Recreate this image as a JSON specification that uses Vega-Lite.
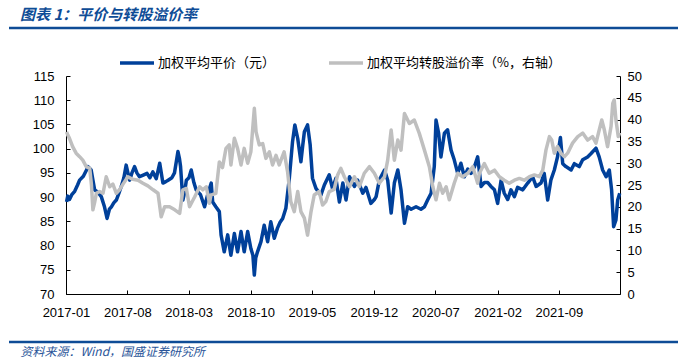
{
  "$schema": "https://vega.github.io/schema/vega-lite/v6.json",
  "width": 554,
  "height": 218,
  "autosize": "none",
  "padding": {"left": 66, "top": 76, "right": 66, "bottom": 69},
  "background": "white",
  "config": {"view": {"stroke": null}, "font": "Noto Sans CJK SC"},
  "title": {
    "text": "图表 1：平价与转股溢价率",
    "anchor": "start",
    "frame": "group",
    "dx": -46,
    "offset": 4,
    "fontSize": 15,
    "fontWeight": "bold",
    "fontStyle": "italic",
    "color": "#0E4C96",
    "font": "Noto Sans CJK SC"
  },
  "datasets": {
    "parity": [
      {"date": "2017-01-03", "value": 89.0}, {"date": "2017-01-07", "value": 90.2}, {"date": "2017-01-13", "value": 89.5},
      {"date": "2017-01-21", "value": 90.5}, {"date": "2017-01-31", "value": 91.2}, {"date": "2017-02-10", "value": 92.5},
      {"date": "2017-02-17", "value": 93.5}, {"date": "2017-03-02", "value": 94.3}, {"date": "2017-03-12", "value": 95.5},
      {"date": "2017-03-18", "value": 96.3}, {"date": "2017-03-29", "value": 95.6}, {"date": "2017-04-04", "value": 93.5},
      {"date": "2017-04-10", "value": 91.5}, {"date": "2017-04-21", "value": 91.0}, {"date": "2017-05-03", "value": 90.1},
      {"date": "2017-05-14", "value": 88.0}, {"date": "2017-05-23", "value": 85.6}, {"date": "2017-05-31", "value": 87.5},
      {"date": "2017-06-07", "value": 88.0}, {"date": "2017-06-15", "value": 88.8}, {"date": "2017-06-24", "value": 89.4},
      {"date": "2017-07-03", "value": 90.8}, {"date": "2017-07-11", "value": 92.2}, {"date": "2017-07-20", "value": 94.0},
      {"date": "2017-07-28", "value": 96.6}, {"date": "2017-08-03", "value": 95.0}, {"date": "2017-08-09", "value": 93.5},
      {"date": "2017-08-17", "value": 95.0}, {"date": "2017-08-26", "value": 96.3}, {"date": "2017-09-03", "value": 95.0},
      {"date": "2017-09-12", "value": 94.2}, {"date": "2017-09-23", "value": 94.5}, {"date": "2017-10-08", "value": 94.9},
      {"date": "2017-10-18", "value": 94.0}, {"date": "2017-10-28", "value": 95.2}, {"date": "2017-11-09", "value": 93.8},
      {"date": "2017-11-21", "value": 97.0}, {"date": "2017-12-02", "value": 92.9}, {"date": "2017-12-12", "value": 93.2},
      {"date": "2017-12-20", "value": 93.5}, {"date": "2018-01-02", "value": 94.0}, {"date": "2018-01-11", "value": 95.0},
      {"date": "2018-01-23", "value": 99.4}, {"date": "2018-01-28", "value": 98.0}, {"date": "2018-02-01", "value": 96.3},
      {"date": "2018-02-09", "value": 89.4}, {"date": "2018-02-15", "value": 91.0}, {"date": "2018-02-21", "value": 93.5},
      {"date": "2018-03-02", "value": 94.0}, {"date": "2018-03-10", "value": 95.6}, {"date": "2018-03-19", "value": 93.0},
      {"date": "2018-03-27", "value": 91.5}, {"date": "2018-04-11", "value": 90.5}, {"date": "2018-04-25", "value": 88.0},
      {"date": "2018-05-07", "value": 90.8}, {"date": "2018-05-18", "value": 92.9}, {"date": "2018-05-23", "value": 89.0},
      {"date": "2018-06-03", "value": 88.0}, {"date": "2018-06-15", "value": 87.0}, {"date": "2018-06-21", "value": 82.2},
      {"date": "2018-07-02", "value": 78.7}, {"date": "2018-07-14", "value": 82.2}, {"date": "2018-07-25", "value": 78.0},
      {"date": "2018-08-06", "value": 82.5}, {"date": "2018-08-17", "value": 78.7}, {"date": "2018-08-29", "value": 82.9},
      {"date": "2018-09-09", "value": 78.7}, {"date": "2018-09-21", "value": 82.9}, {"date": "2018-10-02", "value": 79.4},
      {"date": "2018-10-09", "value": 78.0}, {"date": "2018-10-14", "value": 73.9}, {"date": "2018-10-19", "value": 77.5},
      {"date": "2018-10-25", "value": 78.7}, {"date": "2018-11-06", "value": 80.8}, {"date": "2018-11-17", "value": 84.2},
      {"date": "2018-11-29", "value": 80.8}, {"date": "2018-12-10", "value": 84.9}, {"date": "2018-12-22", "value": 81.5},
      {"date": "2019-01-02", "value": 83.6}, {"date": "2019-01-11", "value": 84.8}, {"date": "2019-01-20", "value": 85.6},
      {"date": "2019-01-31", "value": 87.7}, {"date": "2019-02-12", "value": 93.9}, {"date": "2019-02-23", "value": 101.4},
      {"date": "2019-03-03", "value": 104.9}, {"date": "2019-03-13", "value": 102.1}, {"date": "2019-03-24", "value": 97.3},
      {"date": "2019-03-30", "value": 100.5}, {"date": "2019-04-05", "value": 103.5}, {"date": "2019-04-16", "value": 104.9},
      {"date": "2019-04-25", "value": 100.8}, {"date": "2019-05-03", "value": 93.9}, {"date": "2019-05-15", "value": 91.8},
      {"date": "2019-06-01", "value": 90.4}, {"date": "2019-06-13", "value": 92.5}, {"date": "2019-06-30", "value": 94.6},
      {"date": "2019-07-11", "value": 91.8}, {"date": "2019-07-23", "value": 93.9}, {"date": "2019-08-04", "value": 89.0},
      {"date": "2019-08-16", "value": 92.9}, {"date": "2019-08-27", "value": 89.4}, {"date": "2019-09-08", "value": 94.2},
      {"date": "2019-09-25", "value": 92.2}, {"date": "2019-10-06", "value": 93.5}, {"date": "2019-10-24", "value": 90.8},
      {"date": "2019-11-04", "value": 92.0}, {"date": "2019-11-21", "value": 88.7}, {"date": "2019-12-03", "value": 89.5},
      {"date": "2019-12-09", "value": 90.1}, {"date": "2019-12-20", "value": 93.5}, {"date": "2020-01-07", "value": 95.6},
      {"date": "2020-01-18", "value": 93.5}, {"date": "2020-01-30", "value": 86.7}, {"date": "2020-02-10", "value": 92.9},
      {"date": "2020-02-22", "value": 95.6}, {"date": "2020-03-04", "value": 91.5}, {"date": "2020-03-16", "value": 84.6},
      {"date": "2020-03-27", "value": 88.0}, {"date": "2020-04-08", "value": 87.5}, {"date": "2020-04-25", "value": 88.0},
      {"date": "2020-05-12", "value": 87.5}, {"date": "2020-05-24", "value": 88.0}, {"date": "2020-06-04", "value": 89.4},
      {"date": "2020-06-16", "value": 90.8}, {"date": "2020-06-27", "value": 96.3}, {"date": "2020-07-03", "value": 105.9},
      {"date": "2020-07-12", "value": 103.2}, {"date": "2020-07-20", "value": 98.3}, {"date": "2020-08-01", "value": 103.2},
      {"date": "2020-08-12", "value": 103.9}, {"date": "2020-08-24", "value": 99.7}, {"date": "2020-09-04", "value": 97.7},
      {"date": "2020-09-16", "value": 94.9}, {"date": "2020-09-27", "value": 97.0}, {"date": "2020-10-09", "value": 94.2},
      {"date": "2020-10-21", "value": 95.8}, {"date": "2020-11-01", "value": 94.9}, {"date": "2020-11-13", "value": 96.3},
      {"date": "2020-11-24", "value": 98.3}, {"date": "2020-12-06", "value": 92.2}, {"date": "2020-12-17", "value": 93.0},
      {"date": "2020-12-29", "value": 93.0}, {"date": "2021-01-09", "value": 92.2}, {"date": "2021-01-21", "value": 91.5},
      {"date": "2021-02-01", "value": 88.7}, {"date": "2021-02-13", "value": 93.5}, {"date": "2021-02-24", "value": 90.8},
      {"date": "2021-03-08", "value": 89.5}, {"date": "2021-03-19", "value": 91.5}, {"date": "2021-03-31", "value": 90.1},
      {"date": "2021-04-11", "value": 92.0}, {"date": "2021-04-29", "value": 91.5}, {"date": "2021-05-16", "value": 92.9},
      {"date": "2021-06-02", "value": 94.2}, {"date": "2021-06-14", "value": 92.2}, {"date": "2021-07-01", "value": 92.9},
      {"date": "2021-07-12", "value": 94.9}, {"date": "2021-07-24", "value": 89.4}, {"date": "2021-08-04", "value": 93.5},
      {"date": "2021-08-16", "value": 95.6}, {"date": "2021-08-27", "value": 98.3}, {"date": "2021-09-06", "value": 102.3},
      {"date": "2021-09-14", "value": 96.9}, {"date": "2021-09-25", "value": 96.3}, {"date": "2021-10-13", "value": 95.6},
      {"date": "2021-10-24", "value": 96.9}, {"date": "2021-11-10", "value": 96.3}, {"date": "2021-11-22", "value": 97.7},
      {"date": "2021-12-09", "value": 98.3}, {"date": "2021-12-21", "value": 99.0}, {"date": "2022-01-07", "value": 100.1},
      {"date": "2022-01-18", "value": 98.3}, {"date": "2022-01-30", "value": 95.6}, {"date": "2022-02-11", "value": 94.2},
      {"date": "2022-02-22", "value": 95.6}, {"date": "2022-03-02", "value": 91.5}, {"date": "2022-03-09", "value": 83.9},
      {"date": "2022-03-17", "value": 85.3}, {"date": "2022-03-23", "value": 89.4}, {"date": "2022-03-30", "value": 90.8}
    ],
    "premium": [
      {"date": "2017-01-03", "value": 37.2}, {"date": "2017-01-07", "value": 36.5}, {"date": "2017-01-13", "value": 35.7},
      {"date": "2017-01-24", "value": 33.8}, {"date": "2017-02-05", "value": 32.3}, {"date": "2017-02-17", "value": 31.5},
      {"date": "2017-02-28", "value": 30.7}, {"date": "2017-03-12", "value": 29.2}, {"date": "2017-03-24", "value": 28.8},
      {"date": "2017-03-30", "value": 25.0}, {"date": "2017-04-04", "value": 19.3}, {"date": "2017-04-10", "value": 21.0},
      {"date": "2017-04-16", "value": 23.1}, {"date": "2017-04-27", "value": 23.5}, {"date": "2017-05-09", "value": 23.1},
      {"date": "2017-05-20", "value": 26.9}, {"date": "2017-06-01", "value": 24.6}, {"date": "2017-06-12", "value": 25.2},
      {"date": "2017-06-24", "value": 23.1}, {"date": "2017-07-05", "value": 23.9}, {"date": "2017-07-17", "value": 25.2},
      {"date": "2017-08-03", "value": 26.9}, {"date": "2017-08-20", "value": 26.3}, {"date": "2017-09-07", "value": 26.1},
      {"date": "2017-09-24", "value": 25.4}, {"date": "2017-10-11", "value": 24.8}, {"date": "2017-10-29", "value": 23.9},
      {"date": "2017-11-15", "value": 23.1}, {"date": "2017-11-26", "value": 17.7}, {"date": "2017-12-08", "value": 20.0},
      {"date": "2017-12-25", "value": 20.0}, {"date": "2018-01-12", "value": 19.3}, {"date": "2018-01-29", "value": 18.5},
      {"date": "2018-02-09", "value": 23.9}, {"date": "2018-02-21", "value": 24.2}, {"date": "2018-03-04", "value": 20.0},
      {"date": "2018-03-22", "value": 22.3}, {"date": "2018-04-08", "value": 24.6}, {"date": "2018-04-19", "value": 23.9},
      {"date": "2018-05-01", "value": 24.6}, {"date": "2018-05-12", "value": 20.8}, {"date": "2018-05-17", "value": 22.7},
      {"date": "2018-06-03", "value": 23.1}, {"date": "2018-06-15", "value": 30.3}, {"date": "2018-06-26", "value": 29.0},
      {"date": "2018-07-08", "value": 33.4}, {"date": "2018-07-19", "value": 34.2}, {"date": "2018-07-25", "value": 29.6},
      {"date": "2018-08-06", "value": 35.7}, {"date": "2018-08-17", "value": 33.4}, {"date": "2018-08-29", "value": 29.6},
      {"date": "2018-09-09", "value": 33.4}, {"date": "2018-09-21", "value": 30.0}, {"date": "2018-10-02", "value": 32.6},
      {"date": "2018-10-14", "value": 42.6}, {"date": "2018-10-20", "value": 37.2}, {"date": "2018-10-31", "value": 34.2},
      {"date": "2018-11-12", "value": 34.5}, {"date": "2018-11-23", "value": 31.1}, {"date": "2018-12-05", "value": 32.6},
      {"date": "2018-12-16", "value": 29.6}, {"date": "2018-12-28", "value": 31.8}, {"date": "2019-01-08", "value": 29.6},
      {"date": "2019-01-25", "value": 32.6}, {"date": "2019-02-06", "value": 28.0}, {"date": "2019-02-17", "value": 21.2},
      {"date": "2019-03-01", "value": 18.9}, {"date": "2019-03-13", "value": 23.5}, {"date": "2019-03-24", "value": 18.9},
      {"date": "2019-04-05", "value": 17.4}, {"date": "2019-04-16", "value": 13.5}, {"date": "2019-04-28", "value": 18.9},
      {"date": "2019-05-09", "value": 22.7}, {"date": "2019-05-26", "value": 23.5}, {"date": "2019-06-07", "value": 20.4},
      {"date": "2019-06-18", "value": 21.2}, {"date": "2019-06-30", "value": 23.5}, {"date": "2019-07-17", "value": 24.0},
      {"date": "2019-07-29", "value": 27.3}, {"date": "2019-08-09", "value": 28.8}, {"date": "2019-08-21", "value": 26.9},
      {"date": "2019-09-08", "value": 24.6}, {"date": "2019-09-25", "value": 26.9}, {"date": "2019-10-12", "value": 24.6},
      {"date": "2019-10-29", "value": 27.7}, {"date": "2019-11-16", "value": 29.2}, {"date": "2019-12-03", "value": 27.7},
      {"date": "2019-12-20", "value": 25.4}, {"date": "2020-01-07", "value": 26.9}, {"date": "2020-01-18", "value": 30.7},
      {"date": "2020-01-30", "value": 37.6}, {"date": "2020-02-10", "value": 30.7}, {"date": "2020-02-22", "value": 35.3},
      {"date": "2020-03-04", "value": 33.0}, {"date": "2020-03-16", "value": 41.4}, {"date": "2020-04-02", "value": 39.1},
      {"date": "2020-04-19", "value": 39.9}, {"date": "2020-05-06", "value": 36.9}, {"date": "2020-05-24", "value": 33.0},
      {"date": "2020-06-10", "value": 29.2}, {"date": "2020-06-22", "value": 24.6}, {"date": "2020-07-03", "value": 21.6},
      {"date": "2020-07-15", "value": 25.4}, {"date": "2020-07-26", "value": 23.1}, {"date": "2020-08-07", "value": 24.6},
      {"date": "2020-08-18", "value": 21.6}, {"date": "2020-09-04", "value": 25.4}, {"date": "2020-09-16", "value": 27.7},
      {"date": "2020-10-03", "value": 26.9}, {"date": "2020-10-21", "value": 27.7}, {"date": "2020-11-07", "value": 29.2},
      {"date": "2020-11-24", "value": 25.4}, {"date": "2020-11-30", "value": 27.7}, {"date": "2020-12-17", "value": 29.9},
      {"date": "2021-01-03", "value": 27.7}, {"date": "2021-01-21", "value": 28.4}, {"date": "2021-02-07", "value": 26.9},
      {"date": "2021-02-24", "value": 26.1}, {"date": "2021-03-13", "value": 25.4}, {"date": "2021-03-31", "value": 26.1},
      {"date": "2021-04-17", "value": 26.5}, {"date": "2021-05-04", "value": 26.1}, {"date": "2021-05-22", "value": 26.9},
      {"date": "2021-06-08", "value": 27.3}, {"date": "2021-06-25", "value": 26.9}, {"date": "2021-07-07", "value": 28.4},
      {"date": "2021-07-18", "value": 33.0}, {"date": "2021-07-30", "value": 36.1}, {"date": "2021-08-07", "value": 35.3},
      {"date": "2021-08-16", "value": 32.3}, {"date": "2021-08-27", "value": 33.8}, {"date": "2021-09-08", "value": 32.3},
      {"date": "2021-09-20", "value": 31.5}, {"date": "2021-10-01", "value": 32.3}, {"date": "2021-10-18", "value": 34.6},
      {"date": "2021-11-05", "value": 36.1}, {"date": "2021-11-22", "value": 36.9}, {"date": "2021-12-09", "value": 35.3},
      {"date": "2021-12-26", "value": 36.1}, {"date": "2022-01-07", "value": 34.6}, {"date": "2022-01-18", "value": 37.6},
      {"date": "2022-01-27", "value": 39.9}, {"date": "2022-02-05", "value": 37.6}, {"date": "2022-02-16", "value": 33.8},
      {"date": "2022-02-28", "value": 38.4}, {"date": "2022-03-06", "value": 43.7}, {"date": "2022-03-11", "value": 44.5},
      {"date": "2022-03-17", "value": 39.9}, {"date": "2022-03-25", "value": 36.1}, {"date": "2022-03-30", "value": 37.0}
    ]
  },
  "encoding": {
    "x": {
      "field": "date", "type": "temporal",
      "scale": {"type": "utc", "domain": [{"year": 2017, "month": 1, "date": 1, "utc": true}, {"year": 2022, "month": 3, "date": 31, "utc": true}]},
      "axis": {
        "values": [
          {"year": 2017, "month": 1, "date": 1, "utc": true}, {"year": 2017, "month": 8, "date": 1, "utc": true},
          {"year": 2018, "month": 3, "date": 1, "utc": true}, {"year": 2018, "month": 10, "date": 1, "utc": true},
          {"year": 2019, "month": 5, "date": 1, "utc": true}, {"year": 2019, "month": 12, "date": 1, "utc": true},
          {"year": 2020, "month": 7, "date": 1, "utc": true}, {"year": 2021, "month": 2, "date": 1, "utc": true},
          {"year": 2021, "month": 9, "date": 1, "utc": true}
        ],
        "labelExpr": "utcFormat(datum.value, '%Y-%m')",
        "grid": false, "domainColor": "#000000", "domainWidth": 1,
        "tickColor": "#000000", "tickSize": -4, "labelPadding": 16,
        "labelFont": "Liberation Sans", "labelFontSize": 13, "labelColor": "#000000",
        "labelFlush": false, "labelOverlap": false,
        "title": "资料来源：Wind，国盛证券研究所",
        "titleFont": "Noto Sans CJK SC", "titleFontSize": 12, "titleFontStyle": "italic", "titleFontWeight": "normal",
        "titleColor": "#2A5599", "titleAlign": "left", "titleBaseline": "middle",
        "titleX": -46, "titleY": 57
      }
    }
  },
  "layer": [
    {
      "data": {"values": [{}]},
      "mark": {"type": "rule", "color": "#0E4C96", "strokeWidth": 2.5},
      "encoding": {"x": {"value": -57}, "x2": {"value": 612}, "y": {"value": -48}}
    },
    {
      "data": {"values": [{}]},
      "mark": {"type": "rule", "color": "#0E4C96", "strokeWidth": 2.5},
      "encoding": {"x": {"value": -57}, "x2": {"value": 612}, "y": {"value": 266}}
    },
    {
      "data": {"name": "parity"},
      "mark": {"type": "line", "strokeWidth": 3.5, "strokeJoin": "round"},
      "encoding": {
        "y": {
          "field": "value", "type": "quantitative",
          "scale": {"domain": [70, 115], "nice": false, "zero": false},
          "axis": {
            "orient": "left", "values": [70, 75, 80, 85, 90, 95, 100, 105, 110, 115],
            "grid": false, "domainColor": "#000000", "tickColor": "#000000", "tickSize": -4,
            "labelPadding": 16, "labelFont": "Liberation Sans", "labelFontSize": 13, "labelColor": "#000000",
            "labelFlush": false, "title": null
          }
        },
        "color": {
          "datum": "加权平均平价（元）", "type": "nominal",
          "scale": {"domain": ["加权平均平价（元）", "加权平均转股溢价率（%，右轴）"], "range": ["#00409A", "#BFBFBF"]},
          "legend": {
            "orient": "none", "direction": "horizontal", "legendX": 52, "legendY": -32,
            "symbolType": "stroke", "symbolSize": 1156, "symbolStrokeWidth": 3.5,
            "labelFont": "Noto Sans CJK SC", "labelFontSize": 13, "labelColor": "#000000",
            "labelOffset": 2, "columnPadding": 46, "title": null, "labelLimit": 400
          }
        }
      }
    },
    {
      "data": {"name": "premium"},
      "mark": {"type": "line", "strokeWidth": 3.5, "strokeJoin": "round"},
      "encoding": {
        "y": {
          "field": "value", "type": "quantitative",
          "scale": {"domain": [0, 50], "nice": false},
          "axis": {
            "orient": "right", "values": [0, 5, 10, 15, 20, 25, 30, 35, 40, 45, 50],
            "grid": false, "domainColor": "#000000", "tickColor": "#000000", "tickSize": -4,
            "labelPadding": 11, "labelFont": "Liberation Sans", "labelFontSize": 13, "labelColor": "#000000",
            "labelFlush": false, "title": null
          }
        },
        "color": {"datum": "加权平均转股溢价率（%，右轴）", "type": "nominal"}
      }
    }
  ],
  "resolve": {"scale": {"y": "independent"}}
}
